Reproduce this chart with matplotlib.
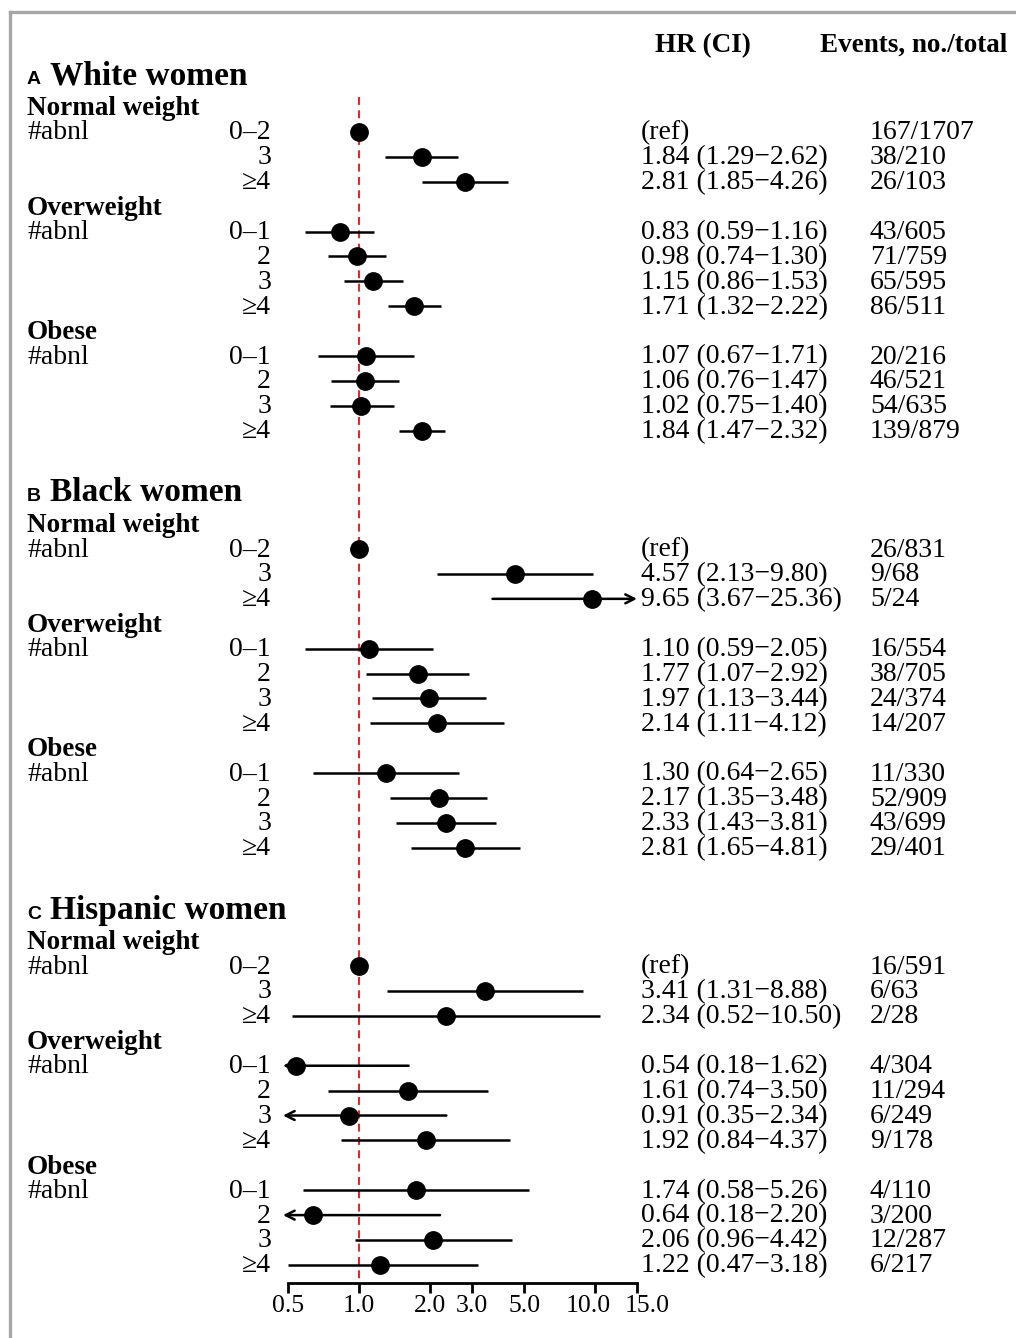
import numpy as np
import matplotlib.pyplot as plt
from matplotlib.lines import Line2D
from matplotlib.transforms import blended_transform_factory, ScaledTranslation

plt.rcParams['font.family'] = ['Liberation Serif', 'DejaVu Serif']

# ---- data ----
panels = ["White women", "Black women", "Hispanic women"]
panel_letters = ["A", "B", "C"]
groups = ["Normal weight", "Overweight", "Obese"]
group_cats = [["0–2", "3", "≥4"],
              ["0–1", "2", "3", "≥4"],
              ["0–1", "2", "3", "≥4"]]

white_hr = [1.00, 1.84, 2.81, 0.83, 0.98, 1.15, 1.71, 1.07, 1.06, 1.02, 1.84]
white_lo = [None, 1.29, 1.85, 0.59, 0.74, 0.86, 1.32, 0.67, 0.76, 0.75, 1.47]
white_hi = [None, 2.62, 4.26, 1.16, 1.30, 1.53, 2.22, 1.71, 1.47, 1.40, 2.32]
white_ev = ["167/1707", "38/210", "26/103", "43/605", "71/759", "65/595",
            "86/511", "20/216", "46/521", "54/635", "139/879"]

black_hr = [1.00, 4.57, 9.65, 1.10, 1.77, 1.97, 2.14, 1.30, 2.17, 2.33, 2.81]
black_lo = [None, 2.13, 3.67, 0.59, 1.07, 1.13, 1.11, 0.64, 1.35, 1.43, 1.65]
black_hi = [None, 9.80, 25.36, 2.05, 2.92, 3.44, 4.12, 2.65, 3.48, 3.81, 4.81]
black_ev = ["26/831", "9/68", "5/24", "16/554", "38/705", "24/374",
            "14/207", "11/330", "52/909", "43/699", "29/401"]

hisp_hr = [1.00, 3.41, 2.34, 0.54, 1.61, 0.91, 1.92, 1.74, 0.64, 2.06, 1.22]
hisp_lo = [None, 1.31, 0.52, 0.18, 0.74, 0.35, 0.84, 0.58, 0.18, 0.96, 0.47]
hisp_hi = [None, 8.88, 10.50, 1.62, 3.50, 2.34, 4.37, 5.26, 2.20, 4.42, 3.18]
hisp_ev = ["16/591", "6/63", "2/28", "4/304", "11/294", "6/249",
           "9/178", "4/110", "3/200", "12/287", "6/217"]

hr_all = [white_hr, black_hr, hisp_hr]
lo_all = [white_lo, black_lo, hisp_lo]
hi_all = [white_hi, black_hi, hisp_hi]
ev_all = [white_ev, black_ev, hisp_ev]

xticks = [0.5, 1.0, 2.0, 3.0, 5.0, 10.0, 15.0]
xticklabels = ["0.5", "1.0", "2.0", "3.0", "5.0", "10.0", "15.0"]

# ---- layout ----
W, H = 1016, 1338
ROW = 24.9                      # pixels per row
panel_start = [4.3, 21.05, 37.8]
XMIN, XMAX = 0.5, 15.0
FS = 20
FSB = 19.5

fig = plt.figure(figsize=(W / 100, H / 100), dpi=100)
ax_bottom = 1283
ax = fig.add_axes([288 / W, 1 - ax_bottom / H, (637 - 288) / W, ax_bottom / H])
ax.set_xscale('log')
ax.set_xlim(XMIN, XMAX)
ax.set_ylim(ax_bottom / ROW, 0)
for s in ['top', 'left', 'right']:
    ax.spines[s].set_visible(False)
ax.spines['bottom'].set_linewidth(2)
ax.set_yticks([])
ax.set_xticks(xticks)
ax.set_xticklabels(xticklabels, fontsize=18.5)
ax.minorticks_off()
ax.tick_params(axis='x', direction='out', length=7, width=2, pad=2)
ax.patch.set_visible(False)
# nudge the two crowded labels apart, as in the original
tl = ax.get_xticklabels()
tl[5].set_transform(tl[5].get_transform() + ScaledTranslation(-0.07, 0, fig.dpi_scale_trans))
tl[6].set_transform(tl[6].get_transform() + ScaledTranslation(0.10, 0, fig.dpi_scale_trans))

tr = blended_transform_factory(fig.transFigure, ax.transData)

def px(x):
    return x / W

arrow_kw = dict(arrowstyle='->', lw=1.8, color='k', shrinkA=0, shrinkB=0,
                mutation_scale=16)

# reference line
ax.plot([1, 1], [3.9, ax_bottom / ROW], color='#e8262a', lw=1.5,
        ls=(0, (3.8, 2.6)), zorder=1, clip_on=False)

# column headers
ax.text(px(703), 2.09, "HR (CI)", transform=tr, ha='center', va='baseline',
        fontsize=FSB, fontweight='bold')
ax.text(px(820), 2.09, "Events, no./total", transform=tr, ha='left',
        va='baseline', fontsize=FSB, fontweight='bold')

for p in range(3):
    r = panel_start[p]
    ty = r - 1.35 + 0.44
    ax.text(px(27), ty, panel_letters[p], transform=tr, ha='left', va='baseline',
            fontsize=14, fontweight='bold', family=['Liberation Sans', 'DejaVu Sans'])
    ax.text(px(50), ty, panels[p], transform=tr, ha='left', va='baseline',
            fontsize=24, fontweight='bold')
    k = 0
    for g, cats in zip(groups, group_cats):
        ax.text(px(27), r + 0.33, g, transform=tr, ha='left', va='baseline',
                fontsize=FSB, fontweight='bold')
        ax.text(px(27), r + 1 + 0.3, "#abnl", transform=tr, ha='left',
                va='baseline', fontsize=FS)
        for j, c in enumerate(cats):
            y = r + 1 + j
            hr, lo, hi = hr_all[p][k], lo_all[p][k], hi_all[p][k]
            ax.text(px(271), y + 0.3, c, transform=tr, ha='right', va='baseline',
                    fontsize=FS)
            if lo is None:
                label = "(ref)"
            else:
                label = f"{hr:.2f} ({lo:.2f}\u2212{hi:.2f})"
                left = max(lo, XMIN)
                right = min(hi, XMAX)
                if lo < 0.45:
                    ax.annotate('', xy=(0.476, y), xytext=(right, y),
                                arrowprops=arrow_kw, annotation_clip=False)
                elif hi > XMAX:
                    ax.annotate('', xy=(XMAX, y), xytext=(left, y),
                                arrowprops=arrow_kw, annotation_clip=False)
                else:
                    ax.plot([left, right], [y, y], color='k', lw=1.8,
                            solid_capstyle='butt', clip_on=False, zorder=2)
            ax.plot([hr], [y], 'o', color='k', ms=12.5, zorder=3, clip_on=False)
            ax.text(px(641), y + 0.3, label, transform=tr, ha='left',
                    va='baseline', fontsize=FS)
            ax.text(px(870), y + 0.3, ev_all[p][k], transform=tr, ha='left',
                    va='baseline', fontsize=FS)
            k += 1
        r += len(cats) + 1

# gray frame
fig.add_artist(Line2D([10 / W, 10 / W], [0, 1 - 12 / H], color='#a6a6a6',
                      lw=2.4, transform=fig.transFigure))
fig.add_artist(Line2D([10 / W, 1], [1 - 12 / H, 1 - 12 / H], color='#a6a6a6',
                      lw=2.4, transform=fig.transFigure))

fig.savefig("out.png", dpi=100, facecolor='white')
